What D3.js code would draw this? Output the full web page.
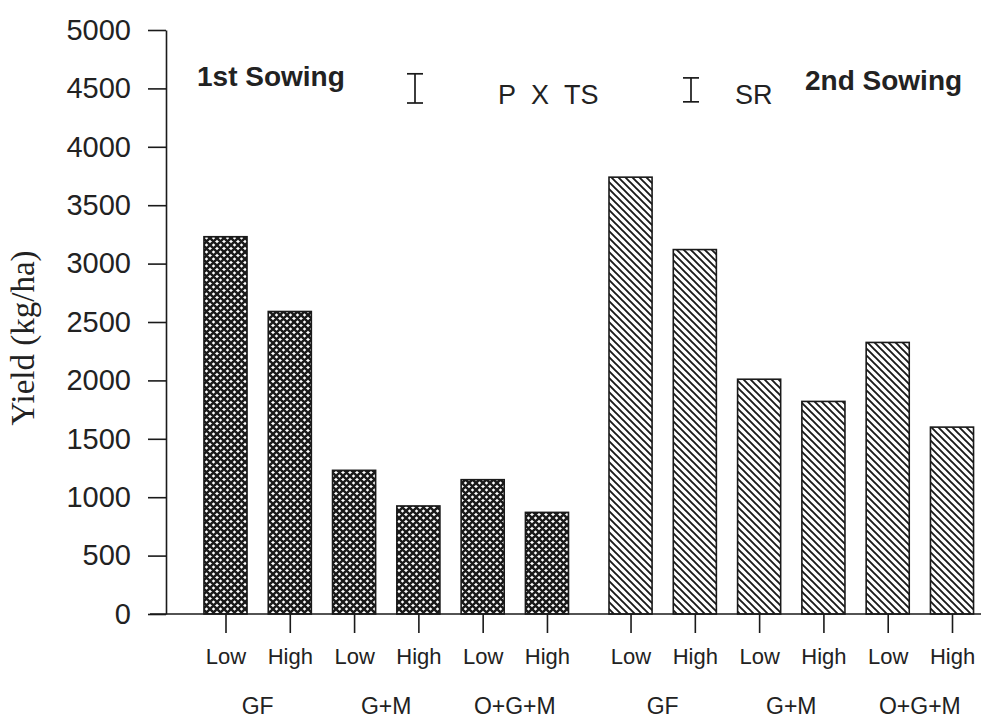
<!DOCTYPE html>
<html>
<head>
<meta charset="utf-8">
<script src="https://cdn.jsdelivr.net/npm/d3@7/dist/d3.min.js"></script>
<style>
  html, body { margin: 0; padding: 0; background: #fff; }
  svg { display: block; }
  text { fill: #222; }
</style>
</head>
<body>
<svg id="chart" width="981" height="719"></svg>
<script>
// Grain yield by seeding rate within each mixture, for two sowing times
const sowings = ["1st Sowing", "2nd Sowing"];
const mixtures = ["GF", "G+M", "O+G+M"];
const rates = ["Low", "High"];
const yieldSowing1 = [3230, 2590, 1230, 925, 1150, 870];
const yieldSowing2 = [3740, 3120, 2010, 1820, 2325, 1600];
const yTicks = [0, 500, 1000, 1500, 2000, 2500, 3000, 3500, 4000, 4500, 5000];
// LSD bars (kg/ha) with the value at their upper end
const lsdLabels = ["P X TS", "SR"];
const lsdValues = [250, 205];
const lsdTops = [4625, 4590];

const svg = d3.select("#chart");
const W = 981, H = 719;
const groupGap = 0.3; // extra slot spacing between the two sowings
const perSowing = mixtures.length * rates.length;

const bars = [];
[yieldSowing1, yieldSowing2].forEach((vals, s) => {
  vals.forEach((v, i) => {
    bars.push({
      sowing: s,
      mixture: mixtures[Math.floor(i / rates.length)],
      rate: rates[i % rates.length],
      value: v,
      slot: s * (perSowing + groupGap) + i
    });
  });
});

const x = d3.scaleLinear()
  .domain([0, 2 * perSowing - 1 + groupGap])
  .range([225.5, 952]);
const y = d3.scaleLinear().domain([0, 5000]).range([614, 30]);
const barW = 0.67 * (x(1) - x(0));

// Fill patterns: cross-hatch for the first sowing, diagonal lines for the second
const defs = svg.append("defs");
const cross = defs.append("pattern")
  .attr("id", "cross").attr("patternUnits", "userSpaceOnUse")
  .attr("width", 7).attr("height", 7);
cross.append("rect").attr("width", 7).attr("height", 7).attr("fill", "#fff");
cross.append("path")
  .attr("d", "M-1,-1 L8,8 M-1,6 L1,8 M6,-1 L8,1 M-1,8 L8,-1 M-1,1 L1,-1 M6,8 L8,6")
  .attr("stroke", "#1a1a1a").attr("stroke-width", 2.5);

const diag = defs.append("pattern")
  .attr("id", "diag").attr("patternUnits", "userSpaceOnUse")
  .attr("width", 7).attr("height", 7);
diag.append("rect").attr("width", 7).attr("height", 7).attr("fill", "#fff");
diag.append("path")
  .attr("d", "M-1,-1 L8,8 M-1,6 L1,8 M6,-1 L8,1")
  .attr("stroke", "#1a1a1a").attr("stroke-width", 1.9);

// Bars
svg.append("g").selectAll("rect")
  .data(bars)
  .join("rect")
  .attr("x", d => x(d.slot) - barW / 2)
  .attr("y", d => y(d.value))
  .attr("width", barW)
  .attr("height", d => y(0) - y(d.value))
  .attr("fill", d => d.sowing === 0 ? "url(#cross)" : "url(#diag)")
  .attr("stroke", "#1a1a1a")
  .attr("stroke-width", 1.6);

// Y axis
const yAxis = svg.append("g")
  .attr("transform", `translate(166,0)`)
  .call(d3.axisLeft(y).tickValues(yTicks).tickFormat(d3.format("d"))
    .tickSize(18).tickSizeOuter(0).tickPadding(17));
yAxis.select(".domain").attr("stroke", "#1a1a1a").attr("stroke-width", 1.6);
yAxis.selectAll(".tick line").attr("stroke", "#1a1a1a").attr("stroke-width", 1.6);
yAxis.selectAll(".tick text")
  .attr("font-family", "Liberation Sans, Arial, sans-serif")
  .attr("font-size", 29).attr("fill", "#222");

// X axis
const xAxis = svg.append("g")
  .attr("transform", `translate(0,${y(0)})`)
  .call(d3.axisBottom(x)
    .tickValues(bars.map(d => d.slot))
    .tickFormat((d, i) => bars[i].rate)
    .tickSize(19).tickPadding(15));
xAxis.select(".domain").remove();
xAxis.append("line")
  .attr("x1", 150).attr("x2", W).attr("y1", 0).attr("y2", 0)
  .attr("stroke", "#1a1a1a").attr("stroke-width", 1.6);
xAxis.selectAll(".tick line").attr("stroke", "#1a1a1a").attr("stroke-width", 1.6);
xAxis.selectAll(".tick text")
  .attr("font-family", "Liberation Sans, Arial, sans-serif")
  .attr("font-size", 22).attr("fill", "#222");

// Mixture labels under each pair of bars
const mixLabels = [];
sowings.forEach((s, si) => {
  mixtures.forEach((m, mi) => {
    const first = bars.find(b => b.sowing === si && b.mixture === m);
    mixLabels.push({ label: m, cx: x(first.slot + 0.5) });
  });
});
svg.append("g").selectAll("text")
  .data(mixLabels)
  .join("text")
  .attr("x", d => d.cx)
  .attr("y", 714)
  .attr("text-anchor", "middle")
  .attr("font-family", "Liberation Sans, Arial, sans-serif")
  .attr("font-size", 23)
  .text(d => d.label);

// Y axis title
svg.append("text")
  .attr("transform", "translate(34,338) rotate(-90)")
  .attr("text-anchor", "middle")
  .attr("font-family", "Liberation Serif, Times New Roman, serif")
  .attr("font-size", 33)
  .text("Yield (kg/ha)");

// Sowing titles
svg.append("text")
  .attr("x", 197).attr("y", 86)
  .attr("font-family", "Liberation Sans, Arial, sans-serif")
  .attr("font-weight", "bold").attr("font-size", 28)
  .text(sowings[0]);
svg.append("text")
  .attr("x", 805).attr("y", 90)
  .attr("font-family", "Liberation Sans, Arial, sans-serif")
  .attr("font-weight", "bold").attr("font-size", 28)
  .text(sowings[1]);

// LSD bars and their labels
const lsd = [
  { label: lsdLabels[0], value: lsdValues[0], top: lsdTops[0], cx: 415, tx: 498 },
  { label: lsdLabels[1], value: lsdValues[1], top: lsdTops[1], cx: 691, tx: 735 }
];
const lsdG = svg.append("g").attr("stroke", "#1a1a1a").attr("stroke-width", 1.7);
lsd.forEach(d => {
  const yt = y(d.top), yb = y(d.top - d.value);
  lsdG.append("line").attr("x1", d.cx).attr("x2", d.cx).attr("y1", yt).attr("y2", yb);
  lsdG.append("line").attr("x1", d.cx - 8).attr("x2", d.cx + 8).attr("y1", yt).attr("y2", yt);
  lsdG.append("line").attr("x1", d.cx - 8).attr("x2", d.cx + 8).attr("y1", yb).attr("y2", yb);
});
svg.append("g").selectAll("text")
  .data(lsd)
  .join("text")
  .attr("x", d => d.tx)
  .attr("y", 104)
  .attr("font-family", "Liberation Sans, Arial, sans-serif")
  .attr("font-size", 27)
  .attr("word-spacing", 8)
  .style("white-space", "pre")
  .text(d => d.label);
</script>
</body>
</html>
